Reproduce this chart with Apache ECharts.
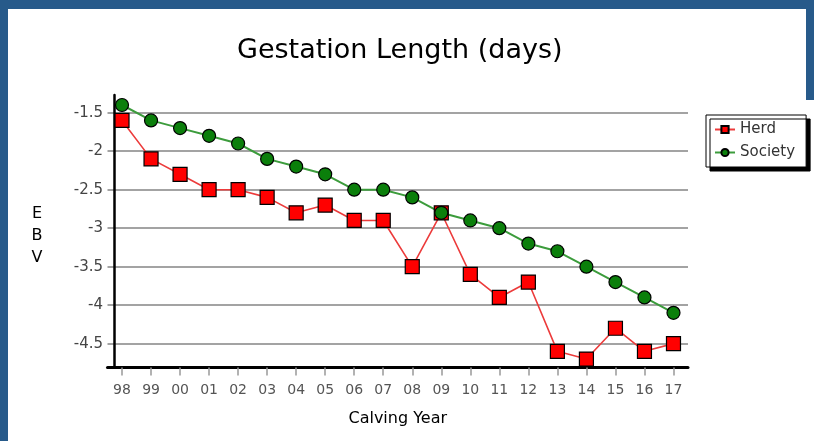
<!DOCTYPE html>
<html>
<head>
<meta charset="utf-8">
<script src="https://cdn.jsdelivr.net/npm/echarts@6/dist/echarts.min.js"></script>
<style>
  html, body { margin: 0; padding: 0; background: #fff; }
  #wrap { position: relative; width: 814px; height: 441px; overflow: hidden; }
  #chart { position: absolute; left: 0; top: 0; width: 814px; height: 441px; }
  .frame { position: absolute; background: #275a8a; }
</style>
</head>
<body>
<div id="wrap">
  <div id="chart"></div>
  <div class="frame" style="left:0;top:0;width:814px;height:9px;"></div>
  <div class="frame" style="left:0;top:0;width:8px;height:441px;"></div>
  <div class="frame" style="left:806px;top:0;width:8px;height:100px;"></div>
</div>
<script>
const years = ['98','99','00','01','02','03','04','05','06','07','08','09','10','11','12','13','14','15','16','17'];
const herd = [-1.6,-2.1,-2.3,-2.5,-2.5,-2.6,-2.8,-2.7,-2.9,-2.9,-3.5,-2.8,-3.6,-3.9,-3.7,-4.6,-4.7,-4.3,-4.6,-4.5];
const society = [-1.4,-1.6,-1.7,-1.8,-1.9,-2.1,-2.2,-2.3,-2.5,-2.5,-2.6,-2.8,-2.9,-3.0,-3.2,-3.3,-3.5,-3.7,-3.9,-4.1];

const FONT = '"DejaVu Sans", Verdana, sans-serif';
const chart = echarts.init(document.getElementById('chart'), null, { renderer: 'canvas' });
chart.setOption({
  animation: false,
  backgroundColor: '#fff',
  textStyle: { fontFamily: FONT },
  title: {
    text: 'Gestation Length (days)',
    left: 237,
    top: 37,
    padding: 0,
    textStyle: { fontFamily: FONT, fontSize: 27, fontWeight: 'normal', color: '#000' }
  },
  legend: {
    orient: 'vertical',
    left: 706,
    top: 115,
    padding: [7, 11, 7, 8],
    itemWidth: 20,
    itemHeight: 9,
    itemGap: 8,
    backgroundColor: '#fff',
    borderColor: '#000',
    borderWidth: 1,
    borderRadius: 0,
    shadowColor: '#000',
    shadowOffsetX: 4,
    shadowOffsetY: 4,
    shadowBlur: 0,
    textStyle: { fontFamily: FONT, fontSize: 15, lineHeight: 14, color: '#333' },
    data: ['Herd', 'Society']
  },
  grid: { left: 107.5, right: 126, top: 95, bottom: 73.5, containLabel: false },
  xAxis: {
    type: 'category',
    data: years,
    boundaryGap: true,
    name: 'Calving Year',
    nameLocation: 'middle',
    nameGap: 43,
    nameTextStyle: { fontFamily: FONT, fontSize: 16, color: '#000' },
    axisLine: { show: true, lineStyle: { color: '#000', width: 3 } },
    axisTick: { show: true, alignWithLabel: true, length: 8, lineStyle: { color: '#999', width: 1.5 } },
    axisLabel: { interval: 0, color: '#555', fontSize: 14, margin: 16, fontFamily: FONT },
    splitLine: { show: false }
  },
  yAxis: {
    type: 'value',
    min: -4.81,
    max: -1.27,
    splitNumber: 7,
    minInterval: 0.5,
    maxInterval: 0.5,
    offset: -6.5,
    name: '{s| }\n{a|E}\n{a|B}\n{a|V}',
    nameLocation: 'middle',
    nameRotate: 0,
    nameGap: 77,
    nameTextStyle: {
      fontFamily: FONT, fontSize: 16, color: '#000', lineHeight: 22, align: 'center', verticalAlign: 'middle',
      rich: {
        s: { fontFamily: FONT, fontSize: 2, lineHeight: 9, align: 'center' },
        a: { fontFamily: FONT, fontSize: 16, color: '#000', lineHeight: 22, align: 'center' }
      }
    },
    axisLine: { show: true, onZero: false, lineStyle: { color: '#000', width: 2.5 } },
    axisTick: { show: false },
    axisLabel: { color: '#444', fontSize: 15, margin: 11, fontFamily: FONT, showMinLabel: false, showMaxLabel: false },
    splitLine: { show: true, showMinLine: false, showMaxLine: false, lineStyle: { color: '#a3a3a3', width: 2 } }
  },
  series: [
    {
      name: 'Herd',
      type: 'line',
      data: herd,
      symbol: 'rect',
      symbolSize: 14,
      itemStyle: { color: '#ff0000', borderColor: '#000', borderWidth: 1.2 },
      lineStyle: { color: '#ec3b3b', width: 1.6 }
    },
    {
      name: 'Society',
      type: 'line',
      data: society,
      symbol: 'circle',
      symbolSize: 13,
      itemStyle: { color: '#0b7f0b', borderColor: '#000', borderWidth: 1.2 },
      lineStyle: { color: '#3c9c3c', width: 2 }
    }
  ]
});
</script>
</body>
</html>
